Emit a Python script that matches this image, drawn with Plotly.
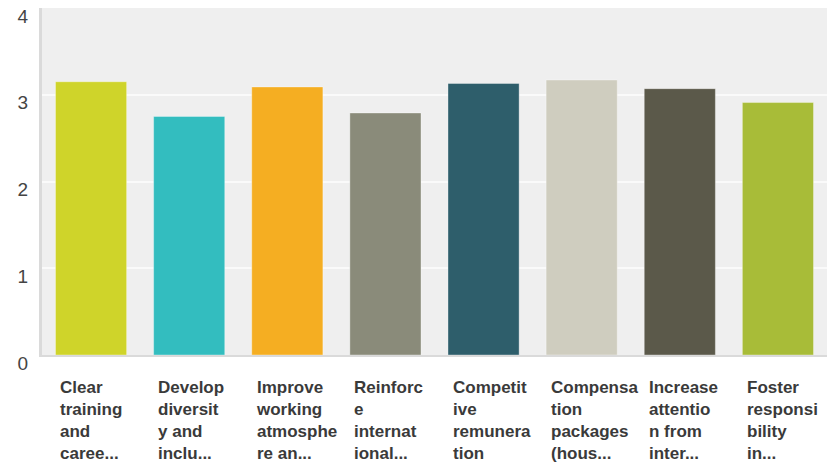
import plotly.graph_objects as go

# Survey: average rating per retention measure (scale 0-4)
categories = [
    "Clear<br>training<br>and<br>caree...",
    "Develop<br>diversit<br>y and<br>inclu...",
    "Improve<br>working<br>atmosphe<br>re an...",
    "Reinforc<br>e<br>internat<br>ional...",
    "Competit<br>ive<br>remunera<br>tion",
    "Compensa<br>tion<br>packages<br>(hous...",
    "Increase<br>attentio<br>n from<br>inter...",
    "Foster<br>responsi<br>bility<br>in...",
]
scores = [3.15, 2.75, 3.09, 2.79, 3.13, 3.17, 3.07, 2.91]
bar_colors = ["#cfd42a", "#33bdbf", "#f5ae22", "#8a8b7a",
              "#2e5e6b", "#cfcdbf", "#5b594a", "#a8bc38"]
y_ticks = [0, 1, 2, 3, 4]

idx = list(range(len(categories)))

fig = go.Figure(go.Bar(
    x=idx,
    y=scores,
    marker=dict(color=bar_colors,
                line=dict(color="rgba(255,255,255,0.35)", width=1)),
    hoverinfo="skip",
))

# Left-aligned, wrapped category labels under each bar
for i, label in zip(idx, categories):
    fig.add_annotation(
        x=i, y=0, xref="x", yref="paper",
        text=label, showarrow=False,
        xanchor="left", yanchor="top", align="left",
        xshift=-33, yshift=-21,
        font=dict(family="Liberation Sans", size=17, color="#3a3a3a", weight="bold"),
    )

fig.update_layout(
    width=831, height=462,
    margin=dict(l=42, r=4, t=8, b=107),
    paper_bgcolor="white",
    plot_bgcolor="#efefef",
    bargap=0.275,
    showlegend=False,
    xaxis=dict(
        range=[-0.5, len(idx) - 0.5],
        showticklabels=False, showgrid=False, zeroline=False,
        showline=True, linecolor="#dadada", linewidth=2,
        fixedrange=True,
    ),
    yaxis=dict(
        range=[0, 4], tickvals=y_ticks,
        showgrid=True, gridcolor="#fafafa", gridwidth=2,
        zeroline=False,
        showline=True, linecolor="#dadada", linewidth=3,
        ticks="", ticklabelstandoff=7, ticklabelshift=8,
        tickfont=dict(family="Liberation Sans", size=19, color="#444444"),
        fixedrange=True,
    ),
)

fig.write_html("out.html")
